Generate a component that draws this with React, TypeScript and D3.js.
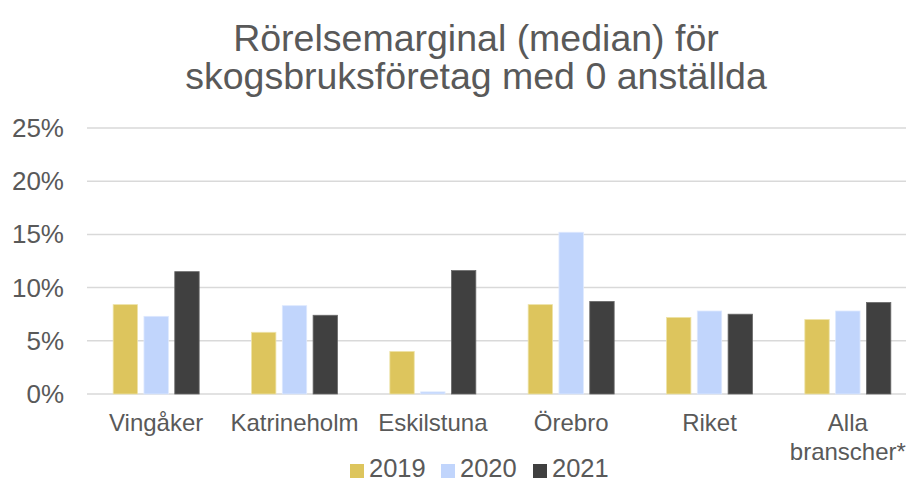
import React, { useEffect, useRef } from "react";
import * as d3 from "d3";

const categories = ["Vingåker", "Katrineholm", "Eskilstuna", "Örebro", "Riket", "Alla branscher*"];
const years = ["2019", "2020", "2021"];
const values2019 = [8.4, 5.8, 4.0, 8.4, 7.2, 7.0];
const values2020 = [7.3, 8.3, 0.2, 15.2, 7.8, 7.8];
const values2021 = [11.5, 7.4, 11.6, 8.7, 7.5, 8.6];
const yTicks = [0, 5, 10, 15, 20, 25];
const titleLines = ["Rörelsemarginal (median) för", "skogsbruksföretag med 0 anställda"];

const colors = { "2019": "#DDC55D", "2020": "#C1D5FC", "2021": "#404040" };
const strokes = { "2019": "#EEE3A8", "2020": "#DDE8FE", "2021": "#6a6a6a" };

export default function App() {
  const ref = useRef<SVGSVGElement>(null);

  useEffect(() => {
    const svg = d3.select(ref.current);
    svg.selectAll("*").remove();

    const width = 906;
    const font = "'Liberation Sans', Arial, sans-serif";
    const textColor = "#595959";

    const left = 87;
    const plotRight = 917; // chart is cropped on the right
    const top = 128;
    const bottom = 394;

    const x = d3.scaleBand().domain(categories).range([left, plotRight]);
    const y = d3.scaleLinear().domain([0, 25]).range([bottom, top]);

    const barW = 24.4;
    const gap = 6.4;
    const xInner = d3
      .scaleOrdinal<string, number>()
      .domain(years)
      .range([-(barW * 1.5 + gap), -barW / 2, barW / 2 + gap]);

    // title
    svg
      .append("g")
      .selectAll("text")
      .data(titleLines)
      .join("text")
      .attr("x", 476)
      .attr("y", (d, i) => 51 + i * 38)
      .attr("text-anchor", "middle")
      .attr("font-family", font)
      .attr("font-size", 37.5)
      .attr("fill", textColor)
      .text((d) => d);

    // gridlines
    svg
      .append("g")
      .selectAll("line")
      .data(yTicks)
      .join("line")
      .attr("x1", left)
      .attr("x2", width)
      .attr("y1", (d) => y(d))
      .attr("y2", (d) => y(d))
      .attr("stroke", "#D9D9D9")
      .attr("stroke-width", 1.5);

    // y labels
    svg
      .append("g")
      .selectAll("text")
      .data(yTicks)
      .join("text")
      .attr("x", 64)
      .attr("y", (d) => y(d) + 9)
      .attr("text-anchor", "end")
      .attr("font-family", font)
      .attr("font-size", 26)
      .attr("fill", textColor)
      .text((d) => d + "%");

    const series = [
      { key: "2019", values: values2019 },
      { key: "2020", values: values2020 },
      { key: "2021", values: values2021 },
    ];

    const bars = svg.append("g");
    series.forEach((s) => {
      bars
        .append("g")
        .selectAll("rect")
        .data(s.values)
        .join("rect")
        .attr("x", (d, i) => x(categories[i])! + x.bandwidth() / 2 + xInner(s.key))
        .attr("y", (d) => y(d))
        .attr("width", barW)
        .attr("height", (d) => bottom - y(d))
        .attr("fill", colors[s.key])
        .attr("stroke", strokes[s.key])
        .attr("stroke-width", 0.8);
    });

    // x labels
    const xl = svg.append("g");
    categories.forEach((c) => {
      const parts = c === "Alla branscher*" ? ["Alla", "branscher*"] : [c];
      xl.append("g")
        .selectAll("text")
        .data(parts)
        .join("text")
        .attr("x", x(c)! + x.bandwidth() / 2)
        .attr("y", (d, i) => 431 + i * 29)
        .attr("text-anchor", "middle")
        .attr("font-family", font)
        .attr("font-size", 24)
        .attr("fill", textColor)
        .text((d) => d);
    });

    // legend
    const legendX = [350, 441, 533];
    const lg = svg.append("g");
    years.forEach((yr, i) => {
      lg.append("rect")
        .attr("x", legendX[i])
        .attr("y", 464)
        .attr("width", 14)
        .attr("height", 14)
        .attr("fill", colors[yr]);
      lg.append("text")
        .attr("x", legendX[i] + 19)
        .attr("y", 477)
        .attr("font-family", font)
        .attr("font-size", 25.5)
        .attr("fill", textColor)
        .text(yr);
    });
  }, []);

  return (
    <svg
      ref={ref}
      width={906}
      height={482}
      style={{ display: "block", position: "absolute", left: 0, top: 0, background: "#fff" }}
    />
  );
}
